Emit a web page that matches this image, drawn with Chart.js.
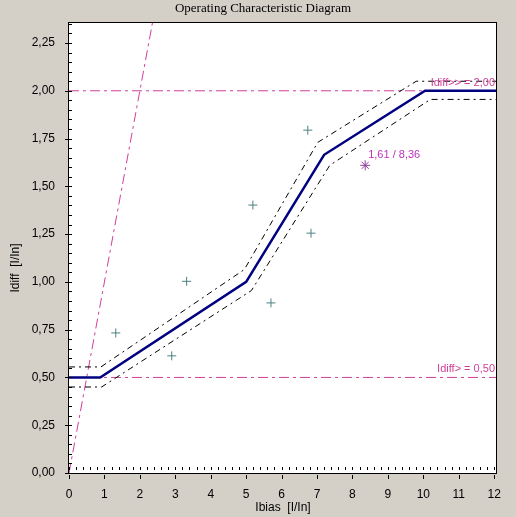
<!DOCTYPE html>
<html>
<head>
<meta charset="utf-8">
<script src="https://cdn.jsdelivr.net/npm/chart.js@4.4.1/dist/chart.umd.min.js"></script>
<style>
html,body{margin:0;padding:0;background:#d4d0c8;}
#wrap{width:516px;height:517px;}
</style>
</head>
<body>
<div id="wrap"><canvas id="c" width="516" height="517"></canvas></div>
<script>
// ---- data ----
const xTickValues = [0,1,2,3,4,5,6,7,8,9,10,11,12];
const yTickValues = [0,0.25,0.5,0.75,1.0,1.25,1.5,1.75,2.0,2.25];
const xMin = 0, xMax = 12.08, yMin = 0, yMax = 2.36;

const mainIbias  = [0, 0.88, 5.0, 7.2, 10.05, 12.08];
const mainIdiff  = [0.5, 0.5, 1.0, 1.665, 2.0, 2.0];
const upperIbias = [0, 0.9, 4.95, 7.02, 9.8, 12.08];
const upperIdiff = [0.555, 0.555, 1.065, 1.73, 2.05, 2.05];
const lowerIbias = [0, 0.92, 5.15, 7.36, 10.2, 12.08];
const lowerIdiff = [0.45, 0.45, 0.955, 1.61, 1.955, 1.955];
const limitIbias = [0, 2.4];
const limitIdiff = [0, 2.4];
const thresholdValues = [0.5, 2.0];
const thresholdLabels = ['Idiff> = 0,50', 'Idiff>> = 2,00'];
const measIbias = [1.32, 2.90, 3.32, 5.19, 5.70, 6.74, 6.83];
const measIdiff = [0.733, 0.613, 1.003, 1.402, 0.890, 1.794, 1.255];
const tripIbias = [8.36];
const tripIdiff = [1.61];
const tripLabel = '1,61 / 8,36';

const pts = (xs, ys) => xs.map((x, i) => ({x, y: ys[i]}));
const PINK = '#d0409a';

const datasets = [
  {label:'trip', data: pts(tripIbias, tripIdiff), showLine:false, pointStyle:'star',
   pointRadius:5, borderColor:'#9040a0', borderWidth:1, order:0},
  {label:'meas', data: pts(measIbias, measIdiff), showLine:false, pointStyle:'cross',
   pointRadius:4.5, borderColor:'#4d8080', borderWidth:1, order:1},
  {label:'main', data: pts(mainIbias, mainIdiff), showLine:true, pointRadius:0,
   borderColor:'#000080', borderWidth:2.5, order:2},
  {label:'upper', data: pts(upperIbias, upperIdiff), showLine:true, pointRadius:0,
   borderColor:'#000000', borderWidth:1, borderDash:[6,4,2,4], order:3},
  {label:'lower', data: pts(lowerIbias, lowerIdiff), showLine:true, pointRadius:0,
   borderColor:'#000000', borderWidth:1, borderDash:[6,4,2,4], order:4},
  {label:'limit', data: pts(limitIbias, limitIdiff), showLine:true, pointRadius:0,
   borderColor:PINK, borderWidth:1, borderDash:[10,4,3,4], order:5},
];
thresholdValues.forEach((v, i) => {
  datasets.push({label:'thr'+i, data:[{x:xMin,y:v},{x:xMax,y:v}], showLine:true, pointRadius:0,
    borderColor:PINK, backgroundColor:PINK, borderWidth:1, borderDash:[10,4,3,4], order:6+i});
});

const fmtY = v => v.toFixed(2).replace('.', ',');

const deco = {
  id:'deco',
  beforeDraw(chart){
    const {ctx, chartArea:a} = chart;
    ctx.save();
    ctx.fillStyle = '#d4d0c8';
    ctx.fillRect(0,0,chart.width,chart.height);
    ctx.fillStyle = '#ffffff';
    ctx.fillRect(a.left, a.top, a.right-a.left, a.bottom-a.top);
    ctx.restore();
  },
  afterDraw(chart){
    const {ctx, chartArea:a, scales:{x, y}} = chart;
    ctx.save();
    // frame
    ctx.strokeStyle = '#000';
    ctx.lineWidth = 1;
    ctx.strokeRect(Math.round(a.left)-0.5, Math.round(a.top)+0.5, Math.round(a.right-a.left), Math.round(a.bottom-a.top));
    ctx.beginPath();
    for (let v = 0; v <= yMax + 1e-9; v += 0.05) {
      const py = Math.round(y.getPixelForValue(v)) + 0.5;
      ctx.moveTo(a.left, py); ctx.lineTo(a.left + 3, py);
    }
    yTickValues.forEach(v => {
      const py = Math.round(y.getPixelForValue(v)) + 0.5;
      ctx.moveTo(a.left - 4, py); ctx.lineTo(a.left + 2, py);
    });
    for (let v = 0; v <= xMax + 1e-9; v += 0.2) {
      const px = Math.round(x.getPixelForValue(v)) + 0.5;
      ctx.moveTo(px, a.bottom - 6); ctx.lineTo(px, a.bottom - 3);
    }
    xTickValues.forEach(v => {
      const px = Math.round(x.getPixelForValue(v)) + 0.5;
      ctx.moveTo(px, a.bottom + 2); ctx.lineTo(px, a.bottom + 6);
    });
    ctx.stroke();

    // chart title
    ctx.fillStyle = '#000';
    ctx.font = '13px "Liberation Serif", serif';
    ctx.textAlign = 'center';
    ctx.textBaseline = 'middle';
    ctx.fillText('Operating Characteristic Diagram', 263, 9);

    // axis titles
    ctx.font = '12px "Liberation Sans", Arial, sans-serif';
    ctx.fillText('Ibias  [I/In]', (a.left + a.right) / 2, 508);
    ctx.save();
    ctx.translate(16, 268);
    ctx.rotate(-Math.PI / 2);
    ctx.fillText('Idiff  [I/In]', 0, 0);
    ctx.restore();

    // threshold labels
    ctx.font = '11px "Liberation Sans", Arial, sans-serif';
    ctx.fillStyle = PINK;
    ctx.textAlign = 'right';
    ctx.textBaseline = 'alphabetic';
    thresholdValues.forEach((v, i) => {
      ctx.fillText(thresholdLabels[i], a.right - 2, y.getPixelForValue(v) - 5);
    });
    // trip point label
    ctx.fillStyle = '#c030c0';
    ctx.textAlign = 'left';
    ctx.fillText(tripLabel, x.getPixelForValue(tripIbias[0]) + 3, y.getPixelForValue(tripIdiff[0]) - 7);
    ctx.restore();
  }
};

new Chart(document.getElementById('c'), {
  type:'scatter',
  data:{datasets},
  plugins:[deco],
  options:{
    responsive:false,
    animation:false,
    events:[],
    layout:{padding:{top:22, right:19, left:0, bottom:0}},
    plugins:{legend:{display:false}, tooltip:{enabled:false}, title:{display:false}},
    elements:{line:{tension:0, fill:false}},
    scales:{
      x:{type:'linear', min:xMin, max:xMax,
        grid:{display:false, drawTicks:false}, border:{display:false},
        afterBuildTicks: s => { s.ticks = xTickValues.map(v => ({value:v})); },
        afterFit: s => { s.height = 44; },
        ticks:{padding:14, color:'#000', font:{family:'"Liberation Sans", Arial, sans-serif', size:12},
          callback: v => String(v)}},
      y:{type:'linear', min:yMin, max:yMax,
        grid:{display:false, drawTicks:false}, border:{display:false},
        afterBuildTicks: s => { s.ticks = yTickValues.map(v => ({value:v})); },
        afterFit: s => { s.width = 69; },
        ticks:{padding:14, color:'#000', font:{family:'"Liberation Sans", Arial, sans-serif', size:12},
          callback: v => fmtY(v)}}
    }
  }
});
</script>
</body>
</html>
